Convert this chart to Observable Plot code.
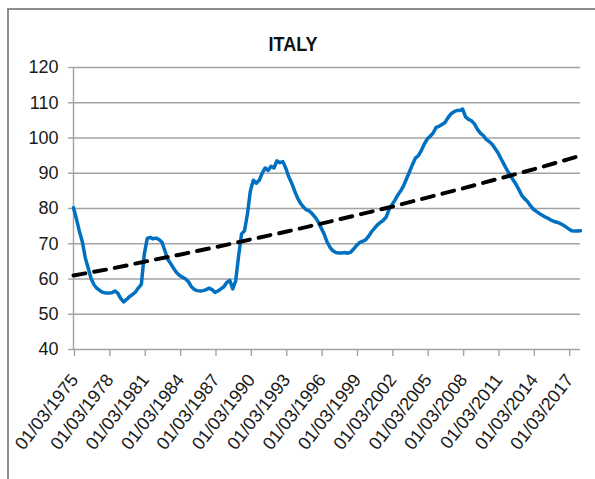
<!DOCTYPE html>
<html>
<head>
<meta charset="utf-8">
<script src="https://cdn.jsdelivr.net/npm/d3@7"></script>
<script src="https://cdn.jsdelivr.net/npm/@observablehq/plot@0.6"></script>
<style>
  html, body { margin: 0; padding: 0; background: #fff; }
  body { width: 595px; height: 479px; overflow: hidden; position: relative; }
  #frame {
    position: absolute; left: 7px; top: 8px; width: 700px; height: 600px;
    border-top: 2px solid #8c8c8c; border-left: 2px solid #8c8c8c;
  }
  #title {
    position: absolute; left: 0; top: 35px; width: 586px; text-align: center;
    font-family: "Liberation Sans Narrow", "Liberation Sans", sans-serif;
    font-weight: bold; font-size: 18px; line-height: 20px; color: #111;
    transform: scaleY(1.15); transform-origin: 50% 17px;
  }
  #chart { position: absolute; left: 0; top: 0; }
</style>
</head>
<body>
<div id="frame"></div>
<div id="title">ITALY</div>
<div id="chart"></div>
<script>
// Quarterly index, first quarter 01/03/1975, last 01/03/2018
const startYear = 1975;
const indexValues = [
  80.2, 77.0, 73.5, 70.5, 66.0, 63.0, 60.0, 58.3,
  57.3, 56.7, 56.2, 56.0, 56.0, 56.1, 56.6, 56.0,
  54.5, 53.5, 54.2, 55.0, 55.6, 56.3, 57.5, 58.5,
  67.0, 71.5, 71.8, 71.4, 71.6, 71.2, 70.4, 68.0,
  65.5, 64.3, 63.0, 61.8, 61.0, 60.5, 60.0, 59.2,
  57.8, 57.0, 56.7, 56.6, 56.7, 57.0, 57.4, 57.0,
  56.2, 56.6, 57.2, 57.8, 59.0, 59.6, 57.2, 59.5,
  66.5, 72.8, 73.7, 78.5, 85.0, 88.0, 87.2, 88.0,
  90.0, 91.5, 90.8, 92.0, 91.5, 93.5, 93.0, 93.3,
  91.5, 89.0, 87.2, 85.0, 83.0, 81.5, 80.4, 79.6,
  79.3, 78.5, 77.5, 76.2, 74.5, 72.8, 70.5, 69.0,
  68.0, 67.5, 67.4, 67.4, 67.5, 67.3, 67.6, 68.5,
  69.5, 70.3, 70.7, 71.0, 72.0, 73.3, 74.3, 75.3,
  76.0, 76.6, 77.5, 79.6, 81.0, 82.3, 83.8, 85.0,
  86.5, 88.5, 90.5, 92.5, 94.3, 95.0, 96.5, 98.3,
  99.7, 100.5, 101.4, 103.0, 103.3, 103.8, 104.4, 105.7,
  106.8, 107.4, 107.8, 107.8, 108.2, 106.0, 105.3, 104.9,
  104.0, 102.5, 101.4, 100.7, 99.6, 99.0, 98.2, 97.0,
  95.8, 94.2, 92.6, 91.0, 89.6, 88.3, 87.0, 85.5,
  83.8, 82.8, 82.0, 80.8, 79.8, 79.2, 78.6, 78.1,
  77.6, 77.2, 76.7, 76.3, 76.1, 75.8, 75.3, 74.8,
  74.2, 73.7, 73.6, 73.6, 73.7
];

// Trend line (exponential fit), read at each labelled year
const trendYears  = [1975, 1978, 1981, 1984, 1987, 1990, 1993, 1996, 1999, 2002, 2005, 2008, 2011, 2014, 2017, 2018];
const trendValues = [61.0, 62.8, 64.9, 66.9, 69.0, 71.2, 73.4, 75.7, 78.1, 80.5, 83.1, 85.7, 88.4, 91.1, 94.0, 95.0];

// Axis ticks
const tickYears = [1975, 1978, 1981, 1984, 1987, 1990, 1993, 1996, 1999, 2002, 2005, 2008, 2011, 2014, 2017];
const yTicks = [40, 50, 60, 70, 80, 90, 100, 110, 120];

const march1 = (y) => new Date(Date.UTC(y, 2, 1));
const series = indexValues.map((v, i) => ({date: new Date(Date.UTC(startYear, 2 + 3 * i, 1)), value: v}));
const trend = trendYears.map((y, i) => ({date: march1(y), value: trendValues[i]}));
const xStart = series[0].date;
const xEnd = series[series.length - 1].date;
const fmt = d3.utcFormat("%d/%m/%Y");
const grey = "#a3a3a3";
const narrow = "'Liberation Sans Narrow', 'Liberation Sans', sans-serif";

const chart = Plot.plot({
  width: 595,
  height: 479,
  marginLeft: 73,
  marginRight: 15,
  marginTop: 67,
  marginBottom: 130,
  style: {
    fontFamily: narrow,
    fontSize: "18px",
    color: "#1a1a1a",
    background: "transparent",
    overflow: "visible"
  },
  x: {type: "utc", domain: [xStart, xEnd]},
  y: {domain: [40, 120]},
  marks: [
    Plot.gridY(yTicks, {stroke: grey, strokeOpacity: 1, strokeWidth: 1.4}),
    Plot.ruleX([xStart], {stroke: grey, strokeWidth: 1.4}),
    Plot.axisY(yTicks, {
      tickSize: 5, tickPadding: 10, stroke: grey, strokeWidth: 1.4,
      label: null, fontSize: 18
    }),
    Plot.axisX(tickYears.map(march1), {
      tickSize: 7, tickPadding: 20, tickRotate: -52, stroke: grey, strokeWidth: 1.4,
      tickFormat: fmt, label: null, textAnchor: "end", lineAnchor: "middle",
      fontSize: 18, dx: 1
    }),
    Plot.line(series, {x: "date", y: "value", stroke: "#0070c0", strokeWidth: 3.5, strokeLinejoin: "round"}),
    Plot.line(trend, {x: "date", y: "value", stroke: "#000", strokeWidth: 4, strokeDasharray: "12,9"})
  ]
});
document.getElementById("chart").appendChild(chart);
</script>
</body>
</html>
